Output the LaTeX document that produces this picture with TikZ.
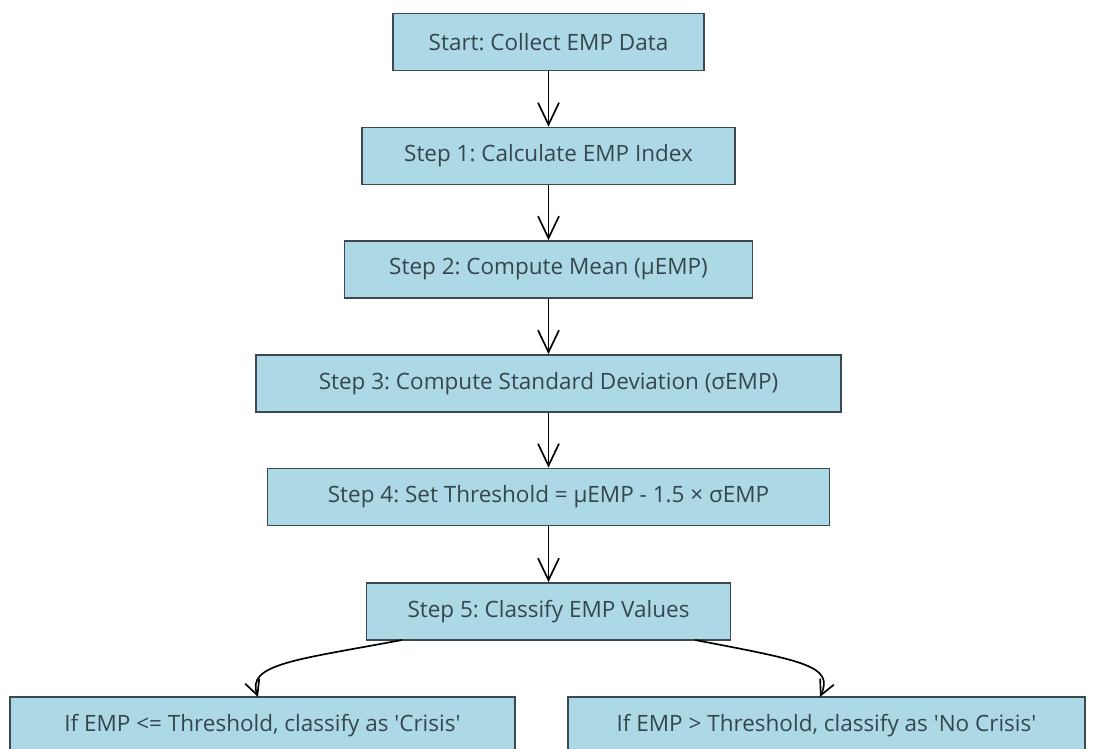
\documentclass[tikz,border=0pt]{standalone}
\usepackage{fontspec}
\setmainfont{Open Sans}
\usetikzlibrary{arrows.meta}
\frenchspacing
\definecolor{boxfill}{HTML}{ADD8E6}
\definecolor{boxdraw}{HTML}{3A4A50}
\definecolor{txt}{HTML}{34474F}
\begin{document}
\begin{tikzpicture}[x=0.02cm,y=-0.02cm,
  stepbox/.style={draw=boxdraw,line width=1pt,fill=boxfill,text=txt,
    font=\fontsize{12.8}{15}\selectfont,minimum height=1.14cm,inner sep=0pt},
  flow/.style={draw=black,line width=0.95pt,-{Straight Barb[length=0.44cm,width=0.42cm,line width=0.95pt]}},
  branch/.style={draw=black,line width=0.95pt,-{Straight Barb[length=0.3cm,width=0.3cm,line width=0.95pt]}}]
\useasboundingbox (0,0) rectangle (1094,749);
\begin{scope}
\clip (0,0) rectangle (1094,749);
\node[stepbox,minimum width=6.22cm] (start) at (548.5,42) {Start: Collect EMP Data};
\node[stepbox,minimum width=7.46cm] (s1) at (548.5,156) {Step 1: Calculate EMP Index};
\node[stepbox,minimum width=8.16cm] (s2) at (548.5,269.5) {Step 2: Compute Mean (μEMP)};
\node[stepbox,minimum width=11.7cm] (s3) at (548.5,383.5) {Step 3: Compute Standard Deviation (σEMP)};
\node[stepbox,minimum width=11.24cm] (s4) at (548.5,497) {Step 4: Set Threshold = μEMP - 1.5 × σEMP};
\node[stepbox,minimum width=7.28cm] (s5) at (548.5,611.5) {Step 5: Classify EMP Values};
\node[stepbox,minimum width=10.1cm] (crisis) at (262.5,725.5) {If EMP <= Threshold, classify as \textquotesingle Crisis\textquotesingle};
\node[stepbox,minimum width=10.34cm] (nocrisis) at (826.5,725.5) {If EMP > Threshold, classify as \textquotesingle No Crisis\textquotesingle};
\end{scope}
\draw[flow] (start) -- (s1);
\draw[flow] (s1) -- (s2);
\draw[flow] (s2) -- (s3);
\draw[flow] (s3) -- (s4);
\draw[flow] (s4) -- (s5);
\coordinate (l0) at (402,640);
\coordinate (l1) at (258,697);
\coordinate (r0) at (695,640);
\coordinate (r1) at (820,697);
\draw[branch] (l0) .. controls (295,660) and (246,664) .. (l1);
\draw[branch] (r0) .. controls (805,661) and (834,666) .. (r1);
\end{tikzpicture}
\end{document}
